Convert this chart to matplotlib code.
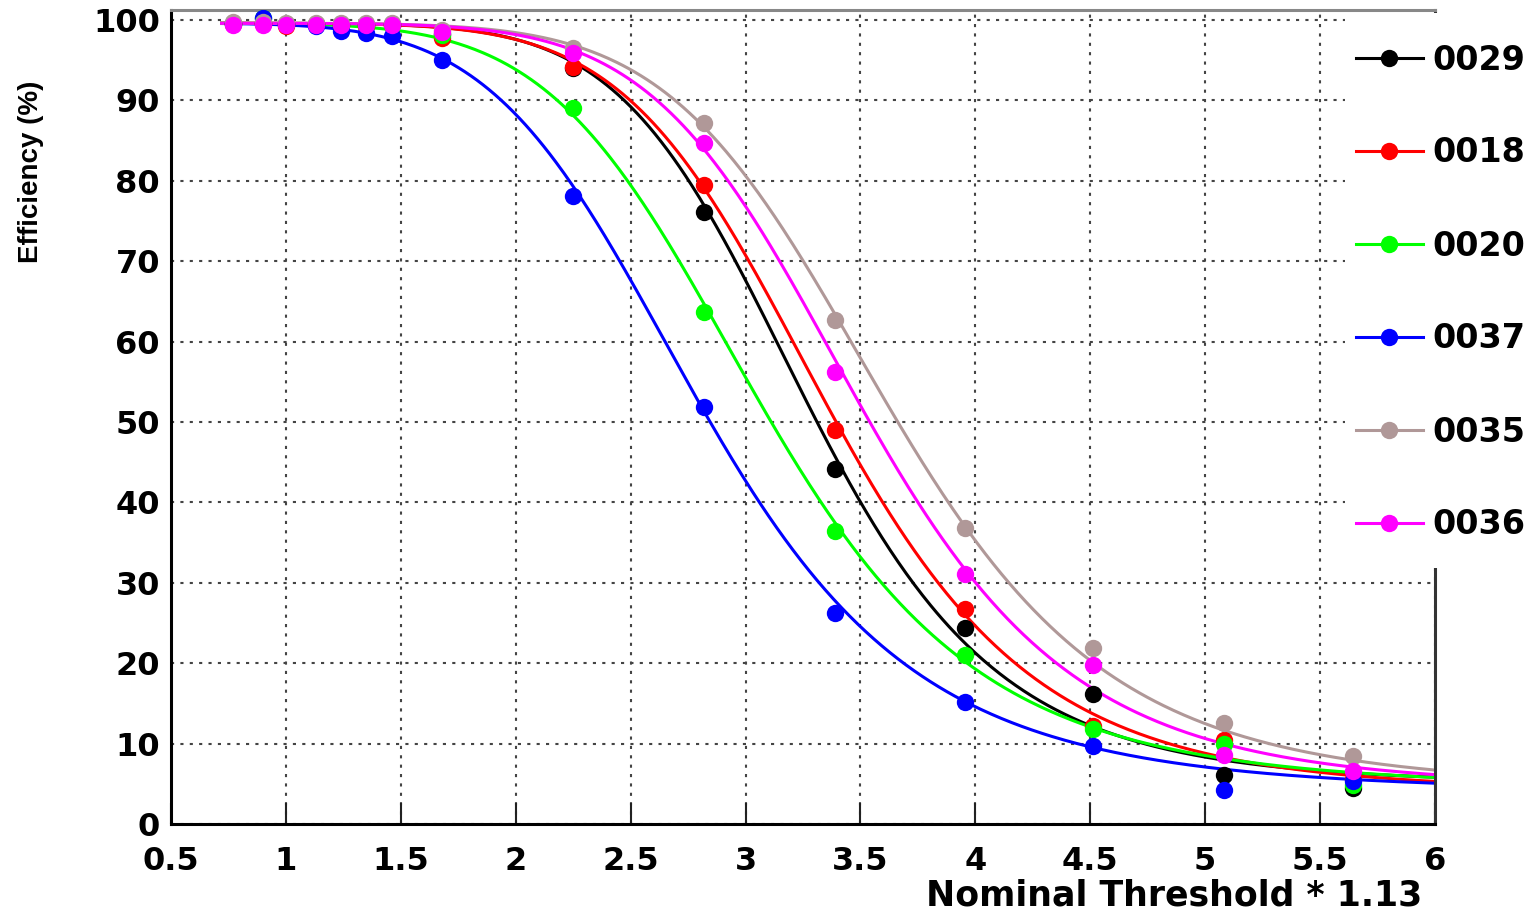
import numpy as np
import matplotlib
matplotlib.use('Agg')
import matplotlib.pyplot as plt
from matplotlib.patches import Rectangle
from matplotlib.lines import Line2D
from matplotlib.ticker import FuncFormatter

plt.rcParams['font.family'] = ['DejaVu Sans']
plt.rcParams['font.weight'] = 'bold'

# ---- data ----
labels = ['0029', '0018', '0020', '0037', '0035', '0036']
colors = ['#000000', '#ff0000', '#00ff00', '#0000ff', '#b09898', '#ff00ff']

x_thr = [0.77, 0.90, 1.00, 1.13, 1.24, 1.35, 1.46, 1.68, 2.25, 2.82, 3.39, 3.955, 4.51, 5.08, 5.645]

eff_0029 = [99.5, 99.6, 99.5, 99.5, 99.4, 99.4, 99.5, 98.3, 94.0, 76.1, 44.2, 24.4, 16.2, 6.1, 4.5]
eff_0018 = [99.5, 99.5, 99.3, 99.5, 99.4, 99.3, 99.4, 97.8, 94.2, 79.5, 49.0, 26.7, 12.2, 10.4, 5.6]
eff_0020 = [99.5, 100.2, 99.5, 99.5, 99.4, 99.4, 99.4, 98.1, 89.0, 63.7, 36.4, 21.0, 11.8, 10.0, 4.9]
eff_0037 = [99.6, 100.3, 99.5, 99.2, 98.7, 98.4, 98.0, 95.0, 78.1, 51.9, 26.2, 15.2, 9.7, 4.2, 5.3]
eff_0035 = [99.8, 99.7, 99.6, 99.6, 99.6, 99.6, 99.6, 98.8, 96.5, 87.2, 62.7, 36.8, 21.9, 12.6, 8.5]
eff_0036 = [99.4, 99.4, 99.4, 99.4, 99.4, 99.4, 99.4, 98.5, 95.9, 84.7, 56.2, 31.1, 19.8, 8.6, 6.6]
eff_all = [eff_0029, eff_0018, eff_0020, eff_0037, eff_0035, eff_0036]

# fit parameters (sigmoid): floor + (top-floor)/(1+(x/mid)^power)
fit_floor = [5.0, 4.0, 4.5, 4.0, 4.5, 4.5]
fit_top = [99.6, 99.6, 99.6, 99.6, 99.6, 99.6]
fit_mid = [3.27, 3.36, 3.07, 2.81, 3.62, 3.50]
fit_power = [7.8, 7.4, 6.4, 5.9, 7.4, 7.5]
fit_range = (0.72, 6.0)

x_ticks = [0.5, 1, 1.5, 2, 2.5, 3, 3.5, 4, 4.5, 5, 5.5, 6]
y_ticks = [0, 10, 20, 30, 40, 50, 60, 70, 80, 90, 100]

W, H = 1528, 916
fig = plt.figure(figsize=(W / 100, H / 100), dpi=100)
ax = fig.add_axes([171 / W, 92 / H, 1264 / W, 814 / H])

xs = np.linspace(fit_range[0], fit_range[1], 600)
handles = []
for lab, col, eff, fl, tp, md, pw in zip(labels, colors, eff_all, fit_floor, fit_top, fit_mid, fit_power):
    ys = fl + (tp - fl) / (1.0 + (xs / md) ** pw)
    ax.plot(xs, ys, color=col, lw=2.2, zorder=2)
    ax.plot(x_thr, eff, 'o', color=col, ms=12.5, mec=col, mew=0, zorder=3)
    handles.append(Line2D([], [], color=col, lw=2.2, marker='o', ms=12.5, mew=0))

ax.set_xlim(0.5, 6.0)
ax.set_ylim(0, 101.25)
ax.set_xticks(x_ticks)
ax.set_yticks(y_ticks)
ax.xaxis.set_major_formatter(FuncFormatter(lambda v, p: '%g' % v))
ax.yaxis.set_major_formatter(FuncFormatter(lambda v, p: '%g' % v))
ax.tick_params(axis='x', direction='in', length=15, width=1.5, pad=16, labelsize=23, color='#222222')
ax.tick_params(axis='y', direction='in', length=0, pad=8, labelsize=23)

ax.grid(True, linestyle=(0, (1.5, 3)), lw=1.5, color='#444444')

for s in ['left', 'bottom']:
    ax.spines[s].set_color('black')
    ax.spines[s].set_linewidth(2.2)
ax.spines['top'].set_color('#888888')
ax.spines['top'].set_linewidth(2.2)
ax.spines['right'].set_color('#333333')
ax.spines['right'].set_linewidth(2.2)

# legend panel (white box covering the right of the frame)
rect = Rectangle((1345 / W, (H - 568) / H), (W - 1345) / W, (568 - 13) / H,
                 transform=fig.transFigure, facecolor='white', edgecolor='none',
                 clip_on=False, zorder=4)
ax.add_artist(rect)

leg = ax.legend(handles, labels, loc='upper left',
                bbox_to_anchor=(1356 / W, 1 - 43.5 / H), bbox_transform=fig.transFigure,
                frameon=False, prop={'size': 24, 'weight': 'bold'},
                handlelength=2.0, handletextpad=0.3, labelspacing=1.80,
                borderpad=0, borderaxespad=0, numpoints=1)
leg.set_zorder(5)

fig.text(1422 / W, 1 - 895 / H, 'Nominal Threshold * 1.13', ha='right', va='center',
         fontsize=25, weight='bold')
fig.text(31 / W, 1 - 172 / H, 'Efficiency (%)', rotation=90, ha='center', va='center',
         fontsize=20, weight='bold', family=['Liberation Sans', 'DejaVu Sans'])

fig.savefig('out.png', dpi=100, facecolor='white')
